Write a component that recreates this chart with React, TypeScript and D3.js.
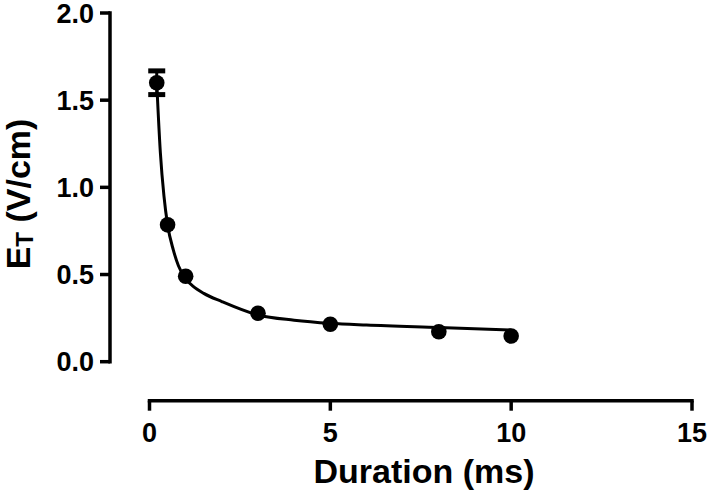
import React from "react";
import * as d3 from "d3";

const durations = [0.2, 0.5, 1, 3, 5, 8, 10];
const thresholds = [1.6, 0.785, 0.49, 0.278, 0.215, 0.172, 0.147];
const errors = [0.068, 0, 0, 0, 0, 0, 0];
const fitX = [0.2, 0.3, 0.4, 0.5, 0.66, 0.8, 1.0, 1.2, 1.5, 2, 3, 4, 5, 6, 8, 10];
const fitY = [1.6, 1.2, 0.95, 0.785, 0.64, 0.55, 0.475, 0.434, 0.392, 0.345, 0.268, 0.238, 0.22, 0.21, 0.196, 0.182];
const xTicks = [0, 5, 10, 15];
const yTicks = [0, 0.5, 1.0, 1.5, 2.0];

export default function App() {
  const W = 709, H = 495;
  const x = d3.scaleLinear().domain([0, 15]).range([149.5, 692]);
  const y = d3.scaleLinear().domain([0, 2]).range([361.7, 13]);
  const yAxisX = 110;
  const xAxisY = 400.7;
  const line = d3
    .line<number>()
    .x((_, i) => x(fitX[i]))
    .y((d) => y(d))
    .curve(d3.curveMonotoneX);
  const font = "'Liberation Sans', Arial, sans-serif";
  return (
    <svg width={W} height={H} style={{ position: "absolute", left: 0, top: 0, background: "#fff" }} fontFamily={font}>
      {/* Y axis */}
      <line x1={yAxisX} x2={yAxisX} y1={y(2)} y2={y(0)} stroke="#000" strokeWidth={3.5} strokeLinecap="square" />
      {yTicks.map((t) => (
        <g key={t}>
          <line x1={yAxisX - 10} x2={yAxisX} y1={y(t)} y2={y(t)} stroke="#000" strokeWidth={3.5} />
          <text x={94} y={y(t)} dy="0.36em" textAnchor="end" fontSize={27} fontWeight="bold">
            {t.toFixed(1)}
          </text>
        </g>
      ))}
      {/* X axis */}
      <line x1={x(0)} x2={x(15)} y1={xAxisY} y2={xAxisY} stroke="#000" strokeWidth={3.5} strokeLinecap="square" />
      {xTicks.map((t) => (
        <g key={t}>
          <line x1={x(t)} x2={x(t)} y1={xAxisY} y2={xAxisY + 10} stroke="#000" strokeWidth={3.5} />
          <text x={x(t)} y={442} textAnchor="middle" fontSize={27} fontWeight="bold">
            {t}
          </text>
        </g>
      ))}
      {/* Titles */}
      <text x={424} y={483} textAnchor="middle" fontSize={34} fontWeight="bold">
        Duration (ms)
      </text>
      <text transform="translate(30,194) rotate(-90)" textAnchor="middle" fontSize={34} fontWeight="bold">
        E<tspan fontSize={24} dy={3}>T</tspan>
        <tspan dy={-3}> (V/cm)</tspan>
      </text>
      {/* Fit curve */}
      <path d={line(fitY) || ""} fill="none" stroke="#000" strokeWidth={3} />
      {/* Error bars */}
      {durations.map((d, i) =>
        errors[i] > 0 ? (
          <g key={"e" + i}>
            <line x1={x(d)} x2={x(d)} y1={y(thresholds[i] + errors[i])} y2={y(thresholds[i] - errors[i])} stroke="#000" strokeWidth={3} />
            <line x1={x(d) - 8.5} x2={x(d) + 8.5} y1={y(thresholds[i] + errors[i])} y2={y(thresholds[i] + errors[i])} stroke="#000" strokeWidth={5} />
            <line x1={x(d) - 8.5} x2={x(d) + 8.5} y1={y(thresholds[i] - errors[i])} y2={y(thresholds[i] - errors[i])} stroke="#000" strokeWidth={5} />
          </g>
        ) : null
      )}
      {/* Points */}
      {durations.map((d, i) => (
        <circle key={i} cx={x(d)} cy={y(thresholds[i])} r={7.8} fill="#000" />
      ))}
    </svg>
  );
}
